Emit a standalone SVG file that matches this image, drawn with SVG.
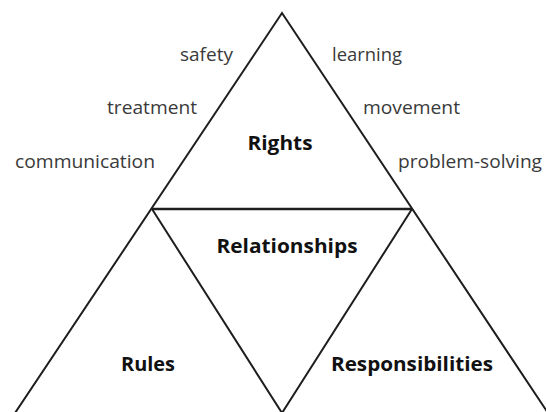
<svg xmlns="http://www.w3.org/2000/svg" width="546" height="412" viewBox="0 0 546 412">
<style>
.ln{stroke:#1e1e1e;stroke-width:2;fill:none;stroke-linejoin:miter}
.lb{font-family:"Open Sans","Liberation Sans",sans-serif;font-size:18px;fill:#3a3a3a;text-anchor:middle}
.hd{font-family:"Open Sans","Liberation Sans",sans-serif;font-size:19.5px;font-weight:bold;fill:#111;text-anchor:middle}
</style>
<rect width="546" height="412" fill="#fff"/>
<g id="lines">
<polyline class="ln" points="15,413 282,13 548,413"/>
<line class="ln" x1="152" y1="209" x2="412" y2="209" style="stroke-width:2.5"/>
<polyline class="ln" points="152,209 282,413 412,209"/>
</g>
<g id="rights">
<text class="hd" x="280" y="150" textLength="65" lengthAdjust="spacingAndGlyphs">Rights</text>
</g>
<g id="relationships">
<text class="hd" x="287" y="253" textLength="141" lengthAdjust="spacingAndGlyphs">Relationships</text>
</g>
<g id="rules">
<text class="hd" x="148" y="371" textLength="54" lengthAdjust="spacingAndGlyphs">Rules</text>
</g>
<g id="responsibilities">
<text class="hd" x="412" y="371" textLength="162" lengthAdjust="spacingAndGlyphs">Responsibilities</text>
</g>
<g id="labels">
<text class="lb" x="206.5" y="61" textLength="53" lengthAdjust="spacingAndGlyphs">safety</text>
<text class="lb" x="152" y="114" textLength="90" lengthAdjust="spacingAndGlyphs">treatment</text>
<text class="lb" x="85" y="168" textLength="140" lengthAdjust="spacingAndGlyphs">communication</text>
<text class="lb" x="367" y="61" textLength="70" lengthAdjust="spacingAndGlyphs">learning</text>
<text class="lb" x="411.5" y="114" textLength="97" lengthAdjust="spacingAndGlyphs">movement</text>
<text class="lb" x="470" y="168" textLength="144" lengthAdjust="spacingAndGlyphs">problem-solving</text>
</g>
</svg>
